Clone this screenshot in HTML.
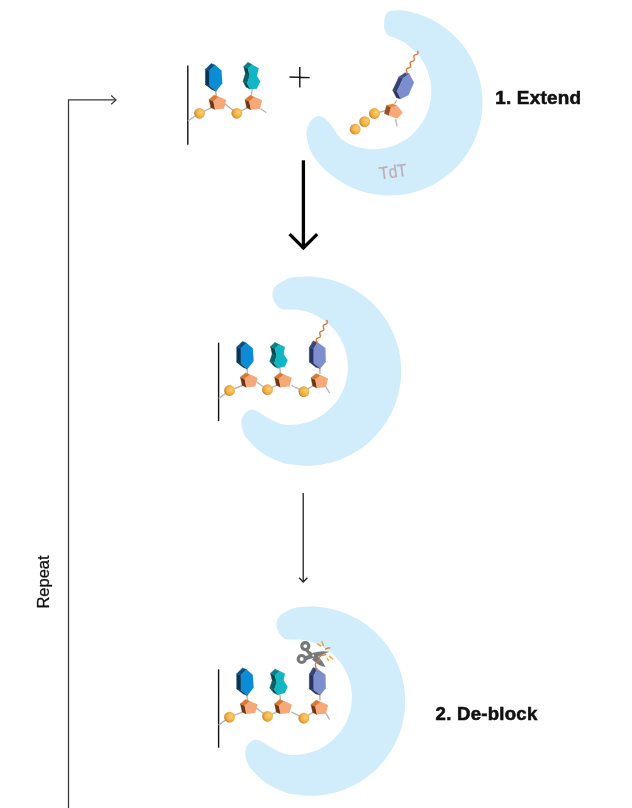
<!DOCTYPE html>
<html><head><meta charset="utf-8"><style>
html,body{margin:0;padding:0;background:#fff;}
body{width:632px;height:808px;position:relative;overflow:hidden;font-family:"Liberation Sans",sans-serif;}
svg{position:absolute;left:0;top:0;will-change:transform;}
</style></head><body>
<svg width="632" height="808" viewBox="0 0 632 808">
<defs><radialGradient id="bg" cx="0.6" cy="0.45" r="0.6" fx="0.66" fy="0.42"><stop offset="0" stop-color="#fcd07c"/><stop offset="0.5" stop-color="#f6b84a"/><stop offset="0.78" stop-color="#eba43a"/><stop offset="0.93" stop-color="#c98b2c"/><stop offset="1" stop-color="#a87222"/></radialGradient></defs>
<path d="M 402.44 10.41 C 406.72 10.68 410.80 11.87 414.87 13.03 C 418.93 14.18 422.95 15.62 426.81 17.31 C 430.68 19.01 434.47 20.98 438.07 23.19 C 441.67 25.39 445.15 27.87 448.42 30.54 C 451.68 33.22 454.80 36.14 457.67 39.24 C 460.54 42.33 463.23 45.65 465.65 49.11 C 468.07 52.57 470.28 56.23 472.21 59.98 C 474.14 63.73 475.83 67.66 477.23 71.64 C 478.63 75.62 479.77 79.74 480.62 83.88 C 481.46 88.01 482.03 92.25 482.30 96.46 C 482.58 100.67 482.56 104.94 482.26 109.15 C 481.96 113.37 481.36 117.60 480.49 121.73 C 479.62 125.86 478.45 129.97 477.02 133.94 C 475.60 137.91 473.88 141.82 471.93 145.57 C 469.97 149.31 467.74 152.95 465.29 156.39 C 462.85 159.83 460.14 163.14 457.25 166.21 C 454.36 169.29 451.22 172.19 447.94 174.84 C 444.66 177.50 441.16 179.95 437.54 182.13 C 433.93 184.31 430.13 186.26 426.25 187.93 C 422.37 189.60 418.34 191.02 414.27 192.14 C 410.20 193.26 406.02 194.12 401.83 194.68 C 397.65 195.24 393.39 195.51 389.16 195.50 C 384.94 195.48 380.68 195.18 376.50 194.59 C 372.32 194.00 368.14 193.11 364.08 191.96 C 360.02 190.80 356.00 189.36 352.13 187.66 C 348.27 185.97 344.48 183.99 340.88 181.78 C 337.28 179.57 333.80 177.10 330.54 174.42 C 327.27 171.74 324.16 168.82 321.29 165.72 C 318.42 162.62 315.45 159.30 313.32 155.84 C 311.19 152.39 309.64 148.72 308.50 145.00 C 307.36 141.28 306.57 136.68 306.50 133.50 C 306.43 130.32 307.13 128.28 308.10 125.90 C 309.07 123.52 310.48 120.87 312.30 119.20 C 314.12 117.53 316.93 116.05 319.00 115.90 C 321.07 115.75 322.80 116.95 324.70 118.30 C 326.60 119.65 328.50 121.63 330.40 124.00 C 332.30 126.37 334.05 129.82 336.10 132.50 C 338.15 135.18 340.08 138.00 342.70 140.10 C 345.32 142.20 349.07 143.85 351.85 145.09 C 354.62 146.33 356.80 146.90 359.35 147.54 C 361.89 148.18 364.50 148.66 367.11 148.95 C 369.72 149.24 372.37 149.35 374.99 149.28 C 377.61 149.21 380.26 148.96 382.85 148.54 C 385.43 148.12 388.02 147.51 390.52 146.74 C 393.03 145.96 395.51 145.01 397.89 143.90 C 400.27 142.80 402.59 141.51 404.80 140.09 C 407.00 138.67 409.13 137.09 411.12 135.38 C 413.11 133.67 415.01 131.81 416.75 129.85 C 418.49 127.89 420.11 125.78 421.57 123.60 C 423.02 121.42 424.34 119.12 425.49 116.76 C 426.64 114.40 427.63 111.94 428.44 109.44 C 429.26 106.95 429.91 104.38 430.38 101.80 C 430.84 99.21 431.14 96.58 431.25 93.96 C 431.36 91.33 431.29 88.68 431.04 86.07 C 430.80 83.46 430.37 80.84 429.77 78.28 C 429.17 75.73 428.39 73.19 427.45 70.75 C 426.50 68.30 425.38 65.89 424.12 63.59 C 422.85 61.30 421.41 59.06 419.85 56.96 C 418.28 54.86 416.55 52.84 414.71 50.97 C 412.87 49.10 410.89 47.34 408.81 45.74 C 406.73 44.14 404.52 42.66 402.25 41.36 C 399.97 40.05 397.48 38.87 395.15 37.91 C 392.83 36.95 389.99 36.85 388.30 35.60 C 386.61 34.35 385.72 32.38 385.00 30.40 C 384.28 28.42 383.93 26.08 384.00 23.70 C 384.07 21.32 384.53 18.15 385.40 16.10 C 386.27 14.05 386.36 12.35 389.20 11.40 C 392.04 10.45 398.17 10.13 402.44 10.41 Z" fill="#d1ecfb"/>
<path d="M 290.17 278.04 C 294.55 276.60 298.57 276.85 302.79 276.68 C 307.01 276.51 311.28 276.62 315.48 277.02 C 319.68 277.41 323.89 278.10 328.00 279.05 C 332.12 280.01 336.20 281.25 340.15 282.75 C 344.09 284.24 347.97 286.02 351.68 288.03 C 355.39 290.05 359.00 292.33 362.41 294.82 C 365.82 297.31 369.09 300.05 372.13 302.97 C 375.18 305.90 378.05 309.05 380.67 312.36 C 383.30 315.66 385.72 319.18 387.88 322.80 C 390.04 326.43 391.98 330.24 393.63 334.12 C 395.28 338.00 396.69 342.03 397.81 346.10 C 398.93 350.17 399.78 354.35 400.35 358.54 C 400.91 362.72 401.20 366.98 401.20 371.20 C 401.20 375.42 400.91 379.68 400.35 383.86 C 399.78 388.05 398.93 392.23 397.81 396.30 C 396.69 400.37 395.28 404.40 393.63 408.28 C 391.98 412.16 390.04 415.97 387.88 419.60 C 385.72 423.22 383.30 426.74 380.67 430.04 C 378.05 433.35 375.18 436.50 372.13 439.43 C 369.09 442.35 365.82 445.09 362.41 447.58 C 359.00 450.07 355.39 452.35 351.68 454.37 C 347.97 456.38 344.09 458.16 340.15 459.65 C 336.20 461.15 332.12 462.39 328.00 463.35 C 323.89 464.30 319.68 464.99 315.48 465.38 C 311.28 465.78 307.01 465.89 302.79 465.72 C 298.57 465.55 293.29 464.77 290.17 464.36 C 287.06 463.96 287.65 464.53 284.10 463.30 C 280.55 462.07 273.33 459.32 268.90 457.00 C 264.47 454.68 260.87 452.15 257.50 449.40 C 254.13 446.65 251.02 443.25 248.70 440.50 C 246.38 437.75 244.83 435.65 243.60 432.90 C 242.37 430.15 241.52 426.53 241.30 424.00 C 241.08 421.47 241.60 419.58 242.30 417.70 C 243.00 415.82 244.02 414.07 245.50 412.70 C 246.98 411.33 249.20 409.72 251.20 409.50 C 253.20 409.28 254.77 410.03 257.50 411.40 C 260.23 412.77 264.22 415.80 267.60 417.70 C 270.98 419.60 274.91 421.64 277.80 422.80 C 280.69 423.96 282.47 424.34 284.95 424.68 C 287.44 425.02 290.14 424.96 292.72 424.84 C 295.30 424.71 297.90 424.42 300.44 423.95 C 302.99 423.48 305.52 422.84 307.98 422.04 C 310.43 421.24 312.86 420.26 315.18 419.14 C 317.51 418.01 319.78 416.72 321.94 415.29 C 324.09 413.87 326.17 412.28 328.12 410.58 C 330.06 408.88 331.91 407.03 333.61 405.09 C 335.31 403.14 336.89 401.06 338.32 398.90 C 339.74 396.75 341.03 394.47 342.16 392.14 C 343.28 389.82 344.25 387.39 345.05 384.93 C 345.85 382.48 346.49 379.94 346.96 377.40 C 347.42 374.86 347.72 372.26 347.84 369.68 C 347.96 367.10 347.90 364.48 347.68 361.91 C 347.45 359.34 347.04 356.75 346.47 354.23 C 345.90 351.71 345.16 349.21 344.26 346.78 C 343.35 344.36 342.28 341.98 341.06 339.70 C 339.84 337.42 338.46 335.21 336.95 333.11 C 335.43 331.01 333.76 329.00 331.98 327.13 C 330.20 325.25 328.28 323.48 326.27 321.87 C 324.25 320.25 322.11 318.75 319.90 317.42 C 317.68 316.08 315.36 314.88 312.99 313.86 C 310.61 312.83 308.15 311.96 305.66 311.26 C 303.18 310.56 300.82 309.94 298.06 309.66 C 295.30 309.39 291.96 309.76 289.10 309.60 C 286.24 309.44 283.22 309.80 280.90 308.70 C 278.58 307.60 276.62 305.43 275.20 303.00 C 273.78 300.57 272.18 297.05 272.40 294.10 C 272.62 291.15 273.54 287.98 276.50 285.30 C 279.46 282.62 285.79 279.47 290.17 278.04 Z" fill="#d1ecfb"/>
<path d="M 294.17 608.04 C 298.55 606.60 302.57 606.85 306.79 606.68 C 311.01 606.51 315.28 606.62 319.48 607.02 C 323.68 607.41 327.89 608.10 332.00 609.05 C 336.12 610.01 340.20 611.25 344.15 612.75 C 348.09 614.24 351.97 616.02 355.68 618.03 C 359.39 620.05 363.00 622.33 366.41 624.82 C 369.82 627.31 373.09 630.05 376.13 632.97 C 379.18 635.90 382.05 639.05 384.67 642.36 C 387.30 645.66 389.72 649.18 391.88 652.80 C 394.04 656.43 395.98 660.24 397.63 664.12 C 399.28 668.00 400.69 672.03 401.81 676.10 C 402.93 680.17 403.78 684.35 404.35 688.54 C 404.91 692.72 405.20 696.98 405.20 701.20 C 405.20 705.42 404.91 709.68 404.35 713.86 C 403.78 718.05 402.93 722.23 401.81 726.30 C 400.69 730.37 399.28 734.40 397.63 738.28 C 395.98 742.16 394.04 745.97 391.88 749.60 C 389.72 753.22 387.30 756.74 384.67 760.04 C 382.05 763.35 379.18 766.50 376.13 769.43 C 373.09 772.35 369.82 775.09 366.41 777.58 C 363.00 780.07 359.39 782.35 355.68 784.37 C 351.97 786.38 348.09 788.16 344.15 789.65 C 340.20 791.15 336.12 792.39 332.00 793.35 C 327.89 794.30 323.68 794.99 319.48 795.38 C 315.28 795.78 311.01 795.89 306.79 795.72 C 302.57 795.55 297.29 794.77 294.17 794.36 C 291.06 793.96 291.65 794.53 288.10 793.30 C 284.55 792.07 277.33 789.32 272.90 787.00 C 268.47 784.68 264.87 782.15 261.50 779.40 C 258.13 776.65 255.02 773.25 252.70 770.50 C 250.38 767.75 248.83 765.65 247.60 762.90 C 246.37 760.15 245.52 756.53 245.30 754.00 C 245.08 751.47 245.60 749.58 246.30 747.70 C 247.00 745.82 248.02 744.07 249.50 742.70 C 250.98 741.33 253.20 739.72 255.20 739.50 C 257.20 739.28 258.77 740.03 261.50 741.40 C 264.23 742.77 268.22 745.80 271.60 747.70 C 274.98 749.60 278.91 751.64 281.80 752.80 C 284.69 753.96 286.47 754.34 288.95 754.68 C 291.44 755.02 294.14 754.96 296.72 754.84 C 299.30 754.71 301.90 754.42 304.44 753.95 C 306.99 753.48 309.52 752.84 311.98 752.04 C 314.43 751.24 316.86 750.26 319.18 749.14 C 321.51 748.01 323.78 746.72 325.94 745.29 C 328.09 743.87 330.17 742.28 332.12 740.58 C 334.06 738.88 335.91 737.03 337.61 735.09 C 339.31 733.14 340.89 731.06 342.32 728.90 C 343.74 726.75 345.03 724.47 346.16 722.14 C 347.28 719.82 348.25 717.39 349.05 714.93 C 349.85 712.48 350.49 709.94 350.96 707.40 C 351.42 704.86 351.72 702.26 351.84 699.68 C 351.96 697.10 351.90 694.48 351.68 691.91 C 351.45 689.34 351.04 686.75 350.47 684.23 C 349.90 681.71 349.16 679.21 348.26 676.78 C 347.35 674.36 346.28 671.98 345.06 669.70 C 343.84 667.42 342.46 665.21 340.95 663.11 C 339.43 661.01 337.76 659.00 335.98 657.13 C 334.20 655.25 332.28 653.48 330.27 651.87 C 328.25 650.25 326.11 648.75 323.90 647.42 C 321.68 646.08 319.36 644.88 316.99 643.86 C 314.61 642.83 312.15 641.96 309.66 641.26 C 307.18 640.56 304.82 639.94 302.06 639.66 C 299.30 639.39 295.96 639.76 293.10 639.60 C 290.24 639.44 287.22 639.80 284.90 638.70 C 282.58 637.60 280.62 635.43 279.20 633.00 C 277.78 630.57 276.18 627.05 276.40 624.10 C 276.62 621.15 277.54 617.98 280.50 615.30 C 283.46 612.62 289.79 609.47 294.17 608.04 Z" fill="#d1ecfb"/>
<text x="392.9" y="177.6" transform="rotate(-8 392.9 171)" font-family="Liberation Sans, sans-serif" font-size="17.5" fill="#bdaeb2" stroke="#bdaeb2" stroke-width="0.25" text-anchor="middle" textLength="27.8" lengthAdjust="spacingAndGlyphs">TdT</text>
<path d="M68.5 808 V99.9 H115.5" fill="none" stroke="#383838" stroke-width="1.25"/>
<path d="M111.2 95.5 L116 99.9 L111.2 104.2" fill="none" stroke="#383838" stroke-width="1.25"/>
<text transform="translate(48.8,608.6) rotate(-90)" font-family="Liberation Sans, sans-serif" font-size="16.5" fill="#111" stroke="#111" stroke-width="0.25">Repeat</text>
<text x="495.2" y="103.8" font-family="Liberation Sans, sans-serif" font-weight="bold" font-size="18.9" letter-spacing="0.22" fill="#111" stroke="#111" stroke-width="0.6">1. Extend</text>
<text x="435.6" y="720.2" font-family="Liberation Sans, sans-serif" font-weight="bold" font-size="18.6" letter-spacing="0.25" fill="#111" stroke="#111" stroke-width="0.6">2. De-block</text>
<path d="M299.8 67 V87.6 M289.5 77 L309.7 77.6" fill="none" stroke="#111" stroke-width="1.4"/>
<path d="M303.4 160.3 V249" fill="none" stroke="#000" stroke-width="3.3"/>
<path d="M289.6 234.2 L303.4 248 L317.2 234.2" fill="none" stroke="#000" stroke-width="3.3"/>
<path d="M303.2 492.9 V582" fill="none" stroke="#222" stroke-width="1.3"/>
<path d="M299 577.8 L303.2 582 L307.4 577.8" fill="none" stroke="#222" stroke-width="1.3"/>
<line x1="187.80" y1="65.60" x2="187.80" y2="144.80" stroke="#111" stroke-width="1.40"/><line x1="187.80" y1="121.00" x2="199.60" y2="113.30" stroke="#b9b3b3" stroke-width="1.35"/><line x1="199.60" y1="113.30" x2="213.70" y2="106.70" stroke="#b9b3b3" stroke-width="1.35"/><line x1="215.50" y1="90.70" x2="216.50" y2="97.20" stroke="#b9b3b3" stroke-width="1.35"/><line x1="224.70" y1="103.70" x2="236.90" y2="113.30" stroke="#b9b3b3" stroke-width="1.35"/><line x1="236.90" y1="113.30" x2="250.40" y2="105.90" stroke="#b9b3b3" stroke-width="1.35"/><line x1="252.20" y1="88.40" x2="251.20" y2="97.90" stroke="#b9b3b3" stroke-width="1.35"/><line x1="260.60" y1="108.70" x2="266.30" y2="112.50" stroke="#b9b3b3" stroke-width="1.35"/><circle cx="199.60" cy="113.30" r="5.40" fill="url(#bg)"/><circle cx="236.90" cy="113.30" r="5.40" fill="url(#bg)"/><polygon points="218.30,97.20 226.10,100.50 221.90,98.50 214.10,95.20" fill="#e88438" stroke="#e88438" stroke-width="0.4" stroke-linejoin="round"/><polygon points="215.00,109.50 213.30,101.30 209.10,99.30 210.80,107.50" fill="#703812" stroke="#703812" stroke-width="0.4" stroke-linejoin="round"/><polygon points="213.30,101.30 218.30,97.20 214.10,95.20 209.10,99.30" fill="#d97b33" stroke="#d97b33" stroke-width="0.4" stroke-linejoin="round"/><polygon points="218.30,97.20 226.10,100.50 224.00,108.70 215.00,109.50 213.30,101.30" fill="#f7a879"/><polygon points="216.20,91.20 209.60,85.90 205.40,84.40 212.00,89.70" fill="#083458" stroke="#083458" stroke-width="0.4" stroke-linejoin="round"/><polygon points="209.60,85.90 209.60,70.80 205.40,69.30 205.40,84.40" fill="#083458" stroke="#083458" stroke-width="0.4" stroke-linejoin="round"/><polygon points="209.60,70.80 215.30,65.10 211.10,63.60 205.40,69.30" fill="#0a5182" stroke="#0a5182" stroke-width="0.4" stroke-linejoin="round"/><polygon points="215.30,65.10 221.50,70.40 222.40,83.20 216.20,91.20 209.60,85.90 209.60,70.80" fill="#0a8dd4"/><polygon points="254.20,97.40 262.00,100.70 257.80,98.70 250.00,95.40" fill="#e88438" stroke="#e88438" stroke-width="0.4" stroke-linejoin="round"/><polygon points="250.90,109.70 249.20,101.50 245.00,99.50 246.70,107.70" fill="#703812" stroke="#703812" stroke-width="0.4" stroke-linejoin="round"/><polygon points="249.20,101.50 254.20,97.40 250.00,95.40 245.00,99.50" fill="#d97b33" stroke="#d97b33" stroke-width="0.4" stroke-linejoin="round"/><polygon points="254.20,97.40 262.00,100.70 259.90,108.90 250.90,109.70 249.20,101.50" fill="#f7a879"/><polygon points="250.20,89.20 247.20,83.50 243.00,81.30 246.00,87.00" fill="#06484d" stroke="#06484d" stroke-width="0.4" stroke-linejoin="round"/><polygon points="247.20,83.50 249.60,75.50 245.40,73.30 243.00,81.30" fill="#096167" stroke="#096167" stroke-width="0.4" stroke-linejoin="round"/><polygon points="249.60,75.50 247.90,68.80 243.70,66.60 245.40,73.30" fill="#06484d" stroke="#06484d" stroke-width="0.4" stroke-linejoin="round"/><polygon points="247.90,68.80 252.10,64.50 247.90,62.30 243.70,66.60" fill="#0c7e84" stroke="#0c7e84" stroke-width="0.4" stroke-linejoin="round"/><polygon points="252.10,64.50 258.80,68.30 256.90,75.90 260.40,81.60 256.90,88.70 250.20,89.20 247.20,83.50 249.60,75.50 247.90,68.80" fill="#10b6c4"/>
<g><line x1="218.60" y1="342.70" x2="218.60" y2="421.10" stroke="#111" stroke-width="1.40"/><line x1="218.60" y1="398.50" x2="229.60" y2="390.50" stroke="#b9b3b3" stroke-width="1.35"/><line x1="229.60" y1="390.50" x2="245.00" y2="384.50" stroke="#b9b3b3" stroke-width="1.35"/><line x1="246.80" y1="368.50" x2="247.80" y2="375.00" stroke="#b9b3b3" stroke-width="1.35"/><line x1="256.00" y1="381.50" x2="267.60" y2="389.70" stroke="#b9b3b3" stroke-width="1.35"/><line x1="267.60" y1="389.70" x2="280.00" y2="383.50" stroke="#b9b3b3" stroke-width="1.35"/><line x1="279.80" y1="368.00" x2="280.80" y2="375.50" stroke="#b9b3b3" stroke-width="1.35"/><line x1="291.50" y1="385.50" x2="303.90" y2="391.60" stroke="#b9b3b3" stroke-width="1.35"/><line x1="303.90" y1="391.60" x2="314.00" y2="385.00" stroke="#b9b3b3" stroke-width="1.35"/><line x1="319.80" y1="367.00" x2="320.00" y2="374.00" stroke="#b9b3b3" stroke-width="1.35"/><line x1="325.20" y1="385.50" x2="329.60" y2="393.00" stroke="#b9b3b3" stroke-width="1.35"/><circle cx="229.60" cy="390.50" r="5.40" fill="url(#bg)"/><circle cx="267.60" cy="389.70" r="5.40" fill="url(#bg)"/><circle cx="303.90" cy="391.60" r="5.40" fill="url(#bg)"/><polygon points="249.60,375.00 257.40,378.30 253.20,376.30 245.40,373.00" fill="#e88438" stroke="#e88438" stroke-width="0.4" stroke-linejoin="round"/><polygon points="246.30,387.30 244.60,379.10 240.40,377.10 242.10,385.30" fill="#703812" stroke="#703812" stroke-width="0.4" stroke-linejoin="round"/><polygon points="244.60,379.10 249.60,375.00 245.40,373.00 240.40,377.10" fill="#d97b33" stroke="#d97b33" stroke-width="0.4" stroke-linejoin="round"/><polygon points="249.60,375.00 257.40,378.30 255.30,386.50 246.30,387.30 244.60,379.10" fill="#f7a879"/><polygon points="247.50,369.00 240.90,363.70 236.70,362.20 243.30,367.50" fill="#083458" stroke="#083458" stroke-width="0.4" stroke-linejoin="round"/><polygon points="240.90,363.70 240.90,348.60 236.70,347.10 236.70,362.20" fill="#083458" stroke="#083458" stroke-width="0.4" stroke-linejoin="round"/><polygon points="240.90,348.60 246.60,342.90 242.40,341.40 236.70,347.10" fill="#0a5182" stroke="#0a5182" stroke-width="0.4" stroke-linejoin="round"/><polygon points="246.60,342.90 252.80,348.20 253.70,361.00 247.50,369.00 240.90,363.70 240.90,348.60" fill="#0a8dd4"/><polygon points="283.80,375.00 291.60,378.30 287.40,376.30 279.60,373.00" fill="#e88438" stroke="#e88438" stroke-width="0.4" stroke-linejoin="round"/><polygon points="280.50,387.30 278.80,379.10 274.60,377.10 276.30,385.30" fill="#703812" stroke="#703812" stroke-width="0.4" stroke-linejoin="round"/><polygon points="278.80,379.10 283.80,375.00 279.60,373.00 274.60,377.10" fill="#d97b33" stroke="#d97b33" stroke-width="0.4" stroke-linejoin="round"/><polygon points="283.80,375.00 291.60,378.30 289.50,386.50 280.50,387.30 278.80,379.10" fill="#f7a879"/><polygon points="279.20,344.80 284.90,347.40 280.50,345.20 274.80,342.60" fill="#0d8c93" stroke="#0d8c93" stroke-width="0.4" stroke-linejoin="round"/><polygon points="278.20,368.30 274.20,363.50 269.80,361.30 273.80,366.10" fill="#06484d" stroke="#06484d" stroke-width="0.4" stroke-linejoin="round"/><polygon points="274.20,363.50 276.60,355.90 272.20,353.70 269.80,361.30" fill="#096268" stroke="#096268" stroke-width="0.4" stroke-linejoin="round"/><polygon points="276.60,355.90 274.90,348.80 270.50,346.60 272.20,353.70" fill="#06484d" stroke="#06484d" stroke-width="0.4" stroke-linejoin="round"/><polygon points="274.90,348.80 279.20,344.80 274.80,342.60 270.50,346.60" fill="#0c8087" stroke="#0c8087" stroke-width="0.4" stroke-linejoin="round"/><polygon points="279.20,344.80 284.90,347.40 283.70,354.00 287.70,360.20 284.90,366.40 278.20,368.30 274.20,363.50 276.60,355.90 274.90,348.80" fill="#10b6c4"/><polygon points="320.20,375.70 328.00,379.00 323.80,377.00 316.00,373.70" fill="#e88438" stroke="#e88438" stroke-width="0.4" stroke-linejoin="round"/><polygon points="316.90,388.00 315.20,379.80 311.00,377.80 312.70,386.00" fill="#703812" stroke="#703812" stroke-width="0.4" stroke-linejoin="round"/><polygon points="315.20,379.80 320.20,375.70 316.00,373.70 311.00,377.80" fill="#d97b33" stroke="#d97b33" stroke-width="0.4" stroke-linejoin="round"/><polygon points="320.20,375.70 328.00,379.00 325.90,387.20 316.90,388.00 315.20,379.80" fill="#f7a879"/><polygon points="320.30,368.50 313.70,363.30 309.30,362.10 315.90,367.30" fill="#28345e" stroke="#28345e" stroke-width="0.4" stroke-linejoin="round"/><polygon points="313.70,363.30 313.70,348.80 309.30,347.60 309.30,362.10" fill="#28345e" stroke="#28345e" stroke-width="0.4" stroke-linejoin="round"/><polygon points="313.70,348.80 317.50,342.20 313.10,341.00 309.30,347.60" fill="#374678" stroke="#374678" stroke-width="0.4" stroke-linejoin="round"/><polygon points="317.50,342.20 325.50,348.10 325.80,361.90 320.30,368.50 313.70,363.30 313.70,348.80" fill="#7c8ece"/></g>
<polyline points="316.71,343.45 316.82,343.16 316.86,342.83 316.85,342.47 316.78,342.08 316.68,341.68 316.57,341.26 316.45,340.85 316.35,340.44 316.28,340.05 316.25,339.69 316.29,339.36 316.39,339.06 316.56,338.79 316.80,338.56 317.10,338.36 317.44,338.19 317.83,338.03 318.23,337.89 318.64,337.74 319.03,337.59 319.39,337.43 319.71,337.24 319.97,337.02 320.16,336.76 320.28,336.48 320.34,336.15 320.34,335.80 320.29,335.42 320.19,335.02 320.08,334.60 319.96,334.19 319.85,333.78 319.77,333.39 319.74,333.02 319.76,332.68 319.85,332.37 320.00,332.09 320.22,331.86 320.51,331.65 320.84,331.47 321.22,331.31 321.62,331.16 322.03,331.02 322.42,330.87 322.79,330.71 323.12,330.53 323.39,330.32 323.60,330.07 323.75,329.79 323.82,329.48 323.83,329.13 323.79,328.75 323.70,328.36 323.59,327.95 323.47,327.53 323.36,327.12 323.27,326.72 323.22,326.35 323.23,326.00 323.30,325.68 323.44,325.40 323.65,325.15 323.92,324.94 324.24,324.75 324.61,324.59 325.01,324.44 325.42,324.30 325.82,324.15 326.20,324.00 326.53,323.82 326.82,323.61 327.04,323.38 327.20,323.10 327.29,322.80 327.32,322.46 327.28,322.09 327.21,321.69 327.10,321.29 326.98,320.87 326.86,320.46" fill="none" stroke="#e2733b" stroke-width="1.35" stroke-linecap="round" stroke-linejoin="round"/>
<g transform="translate(0,326.6)"><line x1="218.60" y1="342.70" x2="218.60" y2="421.10" stroke="#111" stroke-width="1.40"/><line x1="218.60" y1="398.50" x2="229.60" y2="390.50" stroke="#b9b3b3" stroke-width="1.35"/><line x1="229.60" y1="390.50" x2="245.00" y2="384.50" stroke="#b9b3b3" stroke-width="1.35"/><line x1="246.80" y1="368.50" x2="247.80" y2="375.00" stroke="#b9b3b3" stroke-width="1.35"/><line x1="256.00" y1="381.50" x2="267.60" y2="389.70" stroke="#b9b3b3" stroke-width="1.35"/><line x1="267.60" y1="389.70" x2="280.00" y2="383.50" stroke="#b9b3b3" stroke-width="1.35"/><line x1="279.80" y1="368.00" x2="280.80" y2="375.50" stroke="#b9b3b3" stroke-width="1.35"/><line x1="291.50" y1="385.50" x2="303.90" y2="391.60" stroke="#b9b3b3" stroke-width="1.35"/><line x1="303.90" y1="391.60" x2="314.00" y2="385.00" stroke="#b9b3b3" stroke-width="1.35"/><line x1="319.80" y1="367.00" x2="320.00" y2="374.00" stroke="#b9b3b3" stroke-width="1.35"/><line x1="325.20" y1="385.50" x2="329.60" y2="393.00" stroke="#b9b3b3" stroke-width="1.35"/><circle cx="229.60" cy="390.50" r="5.40" fill="url(#bg)"/><circle cx="267.60" cy="389.70" r="5.40" fill="url(#bg)"/><circle cx="303.90" cy="391.60" r="5.40" fill="url(#bg)"/><polygon points="249.60,375.00 257.40,378.30 253.20,376.30 245.40,373.00" fill="#e88438" stroke="#e88438" stroke-width="0.4" stroke-linejoin="round"/><polygon points="246.30,387.30 244.60,379.10 240.40,377.10 242.10,385.30" fill="#703812" stroke="#703812" stroke-width="0.4" stroke-linejoin="round"/><polygon points="244.60,379.10 249.60,375.00 245.40,373.00 240.40,377.10" fill="#d97b33" stroke="#d97b33" stroke-width="0.4" stroke-linejoin="round"/><polygon points="249.60,375.00 257.40,378.30 255.30,386.50 246.30,387.30 244.60,379.10" fill="#f7a879"/><polygon points="247.50,369.00 240.90,363.70 236.70,362.20 243.30,367.50" fill="#083458" stroke="#083458" stroke-width="0.4" stroke-linejoin="round"/><polygon points="240.90,363.70 240.90,348.60 236.70,347.10 236.70,362.20" fill="#083458" stroke="#083458" stroke-width="0.4" stroke-linejoin="round"/><polygon points="240.90,348.60 246.60,342.90 242.40,341.40 236.70,347.10" fill="#0a5182" stroke="#0a5182" stroke-width="0.4" stroke-linejoin="round"/><polygon points="246.60,342.90 252.80,348.20 253.70,361.00 247.50,369.00 240.90,363.70 240.90,348.60" fill="#0a8dd4"/><polygon points="283.80,375.00 291.60,378.30 287.40,376.30 279.60,373.00" fill="#e88438" stroke="#e88438" stroke-width="0.4" stroke-linejoin="round"/><polygon points="280.50,387.30 278.80,379.10 274.60,377.10 276.30,385.30" fill="#703812" stroke="#703812" stroke-width="0.4" stroke-linejoin="round"/><polygon points="278.80,379.10 283.80,375.00 279.60,373.00 274.60,377.10" fill="#d97b33" stroke="#d97b33" stroke-width="0.4" stroke-linejoin="round"/><polygon points="283.80,375.00 291.60,378.30 289.50,386.50 280.50,387.30 278.80,379.10" fill="#f7a879"/><polygon points="279.20,344.80 284.90,347.40 280.50,345.20 274.80,342.60" fill="#0d8c93" stroke="#0d8c93" stroke-width="0.4" stroke-linejoin="round"/><polygon points="278.20,368.30 274.20,363.50 269.80,361.30 273.80,366.10" fill="#06484d" stroke="#06484d" stroke-width="0.4" stroke-linejoin="round"/><polygon points="274.20,363.50 276.60,355.90 272.20,353.70 269.80,361.30" fill="#096268" stroke="#096268" stroke-width="0.4" stroke-linejoin="round"/><polygon points="276.60,355.90 274.90,348.80 270.50,346.60 272.20,353.70" fill="#06484d" stroke="#06484d" stroke-width="0.4" stroke-linejoin="round"/><polygon points="274.90,348.80 279.20,344.80 274.80,342.60 270.50,346.60" fill="#0c8087" stroke="#0c8087" stroke-width="0.4" stroke-linejoin="round"/><polygon points="279.20,344.80 284.90,347.40 283.70,354.00 287.70,360.20 284.90,366.40 278.20,368.30 274.20,363.50 276.60,355.90 274.90,348.80" fill="#10b6c4"/><polygon points="320.20,375.70 328.00,379.00 323.80,377.00 316.00,373.70" fill="#e88438" stroke="#e88438" stroke-width="0.4" stroke-linejoin="round"/><polygon points="316.90,388.00 315.20,379.80 311.00,377.80 312.70,386.00" fill="#703812" stroke="#703812" stroke-width="0.4" stroke-linejoin="round"/><polygon points="315.20,379.80 320.20,375.70 316.00,373.70 311.00,377.80" fill="#d97b33" stroke="#d97b33" stroke-width="0.4" stroke-linejoin="round"/><polygon points="320.20,375.70 328.00,379.00 325.90,387.20 316.90,388.00 315.20,379.80" fill="#f7a879"/><polygon points="320.30,368.50 313.70,363.30 309.30,362.10 315.90,367.30" fill="#28345e" stroke="#28345e" stroke-width="0.4" stroke-linejoin="round"/><polygon points="313.70,363.30 313.70,348.80 309.30,347.60 309.30,362.10" fill="#28345e" stroke="#28345e" stroke-width="0.4" stroke-linejoin="round"/><polygon points="313.70,348.80 317.50,342.20 313.10,341.00 309.30,347.60" fill="#374678" stroke="#374678" stroke-width="0.4" stroke-linejoin="round"/><polygon points="317.50,342.20 325.50,348.10 325.80,361.90 320.30,368.50 313.70,363.30 313.70,348.80" fill="#7c8ece"/></g>
<g fill="#77787b"><circle cx="305.3" cy="646.1" r="3.5" fill="none" stroke="#77787b" stroke-width="3.2"/><circle cx="301.7" cy="659" r="3.5" fill="none" stroke="#77787b" stroke-width="3.2"/><path d="M307.5 649.2 L315.5 655.8 L311.5 658.3 L305.6 651.2 Z"/><path d="M304.6 656.6 L313 653.2 L314.6 657.6 L305.2 660.6 Z"/><path d="M312.6 652.8 Q322 650.3 329.4 651.8 Q322 654.6 315.2 658 Z"/><path d="M315.6 654.2 Q321.6 659.2 325.6 667 Q318.4 665.8 312.2 659.4 Z"/><circle cx="313.2" cy="655.4" r="1.0" fill="#fff"/></g>
<polyline points="316.3,669.6 315.3,664.2 316.9,662.2 319.3,660.6 319.5,657 321.3,655.5 324.6,654.8 325.8,654.3" fill="none" stroke="#e2733b" stroke-width="1.3" stroke-linecap="round" stroke-linejoin="round"/>
<polyline points="325.5,649.2 327.5,648.2 329.8,647.8" fill="none" stroke="#e2733b" stroke-width="1.3" stroke-linecap="round"/>
<path d="M317.6 644 L320.7 645.8 M321.9 641.6 L323.4 645.5 M327.3 658.4 L328.5 660.5 M329.4 656.3 L332.4 658.7" stroke="#f39b2f" stroke-width="1.4" stroke-linecap="round" fill="none"/>
<line x1="374.50" y1="113.50" x2="386.00" y2="110.50" stroke="#b9b3b3" stroke-width="1.35"/><line x1="395.60" y1="119.20" x2="397.00" y2="126.30" stroke="#b9b3b3" stroke-width="1.35"/><circle cx="374.50" cy="113.50" r="5.40" fill="url(#bg)"/><circle cx="364.70" cy="121.60" r="5.40" fill="url(#bg)"/><circle cx="355.20" cy="129.20" r="5.40" fill="url(#bg)"/><line x1="396.50" y1="100.20" x2="394.60" y2="104.00" stroke="#b9b3b3" stroke-width="1.35"/><polygon points="388.78,115.43 390.99,107.35 386.59,105.35 384.38,113.43" fill="#99521f" stroke="#99521f" stroke-width="0.4" stroke-linejoin="round"/><polygon points="390.99,107.35 397.31,105.97 392.91,103.97 386.59,105.35" fill="#e88438" stroke="#e88438" stroke-width="0.4" stroke-linejoin="round"/><polygon points="397.31,105.97 402.76,112.45 397.16,118.80 388.78,115.43 390.99,107.35" fill="#f7a879"/><polygon points="400.69,98.89 396.91,91.38 392.71,90.18 396.49,97.69" fill="#28345e" stroke="#28345e" stroke-width="0.4" stroke-linejoin="round"/><polygon points="396.91,91.38 403.04,78.24 398.84,77.04 392.71,90.18" fill="#354374" stroke="#354374" stroke-width="0.4" stroke-linejoin="round"/><polygon points="403.04,78.24 409.27,73.87 405.07,72.67 398.84,77.04" fill="#405087" stroke="#405087" stroke-width="0.4" stroke-linejoin="round"/><polygon points="409.27,73.87 414.03,82.59 408.47,95.23 400.69,98.89 396.91,91.38 403.04,78.24" fill="#7c8ece"/><polyline points="406.81,73.55 406.93,73.26 406.98,72.94 406.98,72.59 406.93,72.21 406.84,71.81 406.74,71.40 406.63,70.99 406.54,70.59 406.48,70.20 406.46,69.84 406.49,69.50 406.59,69.20 406.75,68.94 406.97,68.71 407.25,68.52 407.59,68.35 407.96,68.20 408.36,68.07 408.76,67.94 409.16,67.81 409.53,67.66 409.86,67.49 410.15,67.29 410.37,67.06 410.53,66.80 410.62,66.50 410.65,66.17 410.63,65.80 410.57,65.41 410.48,65.01 410.37,64.60 410.27,64.19 410.18,63.79 410.13,63.41 410.13,63.06 410.18,62.74 410.30,62.45 410.48,62.20 410.73,61.98 411.03,61.80 411.38,61.64 411.76,61.50 412.16,61.37 412.57,61.24 412.96,61.10 413.32,60.95 413.63,60.77 413.90,60.56 414.10,60.32 414.23,60.04 414.31,59.73 414.32,59.39 414.28,59.01 414.21,58.62 414.11,58.21 414.00,57.80 413.90,57.40 413.83,57.00 413.79,56.63 413.81,56.29 413.88,55.98 414.02,55.70 414.23,55.47 414.50,55.26 414.81,55.08 415.18,54.93 415.57,54.79 415.97,54.67 416.37,54.53 416.75,54.39 417.10,54.23 417.40,54.04 417.64,53.83 417.82,53.57 417.93,53.28 417.98,52.96 417.98,52.60 417.93,52.22 417.84,51.82 417.74,51.41" fill="none" stroke="#e2733b" stroke-width="1.35" stroke-linecap="round" stroke-linejoin="round"/>
</svg>



</body></html>
